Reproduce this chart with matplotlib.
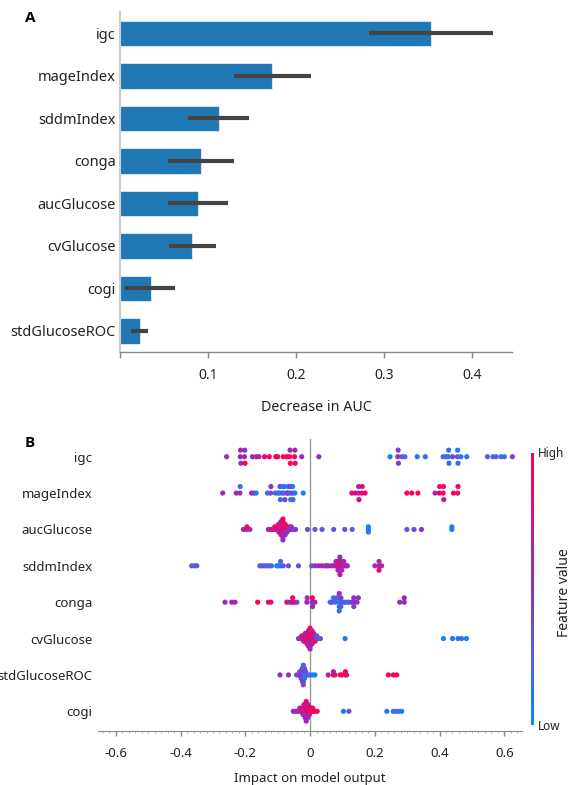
import numpy as np
import matplotlib
matplotlib.use("Agg")
import matplotlib.pyplot as plt
from matplotlib.colors import LinearSegmentedColormap, Normalize
from matplotlib.cm import ScalarMappable
from matplotlib.ticker import MultipleLocator

plt.rcParams['font.family'] = ['Noto Sans', 'DejaVu Sans']
plt.rcParams['axes.unicode_minus'] = False

# ---- panel A: permutation importance (decrease in AUC) ----
perm_features = ['igc', 'mageIndex', 'sddmIndex', 'conga', 'aucGlucose',
                 'cvGlucose', 'cogi', 'stdGlucoseROC']
perm_mean = [0.353, 0.173, 0.112, 0.092, 0.088, 0.082, 0.035, 0.023]
perm_low = [0.283, 0.129, 0.077, 0.055, 0.054, 0.056, 0.006, 0.013]
perm_high = [0.423, 0.217, 0.147, 0.129, 0.123, 0.109, 0.063, 0.032]

# ---- panel B: shap values per feature (x) and scaled feature value (colour) ----
shap_features = ['igc', 'mageIndex', 'aucGlucose', 'sddmIndex', 'conga',
                 'cvGlucose', 'stdGlucoseROC', 'cogi']

igc_shap = [-0.258, -0.216, -0.215, -0.214, -0.203, -0.202, -0.201, -0.178, -0.166, -0.158,
            -0.141, -0.126, -0.106, -0.100, -0.083, -0.072, -0.063, -0.062, -0.061, -0.048,
            -0.047, -0.046, -0.026, 0.027,
            0.247, 0.271, 0.272, 0.273, 0.284, 0.293, 0.331, 0.356, 0.411, 0.420,
            0.427, 0.428, 0.429, 0.440, 0.455, 0.456, 0.457, 0.466, 0.484, 0.548,
            0.565, 0.575, 0.590, 0.600, 0.625]
igc_feat = [0.55, 0.55, 0.6, 0.5, 0.6, 0.55, 1.0, 0.6, 0.6, 0.55,
            0.95, 0.95, 1.0, 0.95, 1.0, 0.95, 1.0, 0.6, 1.0, 0.95,
            0.6, 0.9, 0.55, 0.55,
            0.05, 0.5, 0.45, 0.5, 0.35, 0.2, 0.15, 0.15, 0.1, 0.2,
            0.2, 0.15, 0.1, 0.4, 0.3, 0.1, 0.2, 0.15, 0.1, 0.2,
            0.25, 0.2, 0.25, 0.15, 0.45]

mage_shap = [-0.270, -0.228, -0.217, -0.216, -0.181, -0.173, -0.167, -0.132, -0.122, -0.121,
             -0.108, -0.100, -0.094, -0.093, -0.092, -0.086, -0.085, -0.080, -0.079, -0.078,
             -0.071, -0.069, -0.068, -0.062, -0.061, -0.060, -0.055, -0.054, -0.053, -0.047,
             -0.021,
             0.129, 0.139, 0.149, 0.150, 0.151, 0.160, 0.161, 0.170, 0.299, 0.314,
             0.333, 0.386, 0.399, 0.400, 0.411, 0.412, 0.413, 0.443, 0.456, 0.457]
mage_feat = [0.55, 0.6, 0.55, 0.1, 0.55, 0.6, 0.1, 0.2, 0.35, 0.5,
             0.25, 0.2, 0.1, 0.45, 0.15, 0.4, 0.15, 0.1, 0.15, 0.4,
             0.3, 0.5, 0.1, 0.2, 0.45, 0.1, 0.45, 0.1, 0.2, 0.1,
             0.05,
             0.85, 0.8, 0.75, 0.55, 0.85, 0.85, 0.9, 0.9, 1.0, 1.0,
             1.0, 0.6, 0.9, 0.85, 1.0, 1.0, 0.8, 0.95, 0.9, 0.85]

auc_shap = [-0.206, -0.196, -0.195, -0.186,
            -0.129, -0.122, -0.116, -0.109, -0.109, -0.103, -0.103,
            -0.097, -0.097, -0.097, -0.097,
            -0.090, -0.090, -0.090, -0.090, -0.090, -0.090,
            -0.084, -0.084, -0.084, -0.084, -0.084, -0.084, -0.084, -0.084, -0.084,
            -0.077, -0.077, -0.077, -0.077, -0.077,
            -0.071, -0.071, -0.071, -0.064, -0.064, -0.058, -0.058, -0.052, -0.045,
            -0.008, 0.015, 0.037, 0.073, 0.107, 0.130, 0.180, 0.180, 0.180,
            0.299, 0.321, 0.344, 0.438, 0.438]
auc_feat = [0.6, 0.6, 0.95, 0.55,
            0.55, 0.6, 0.95, 0.6, 0.9, 0.55, 1.0,
            0.6, 1.0, 0.55, 0.9,
            1.0, 0.6, 0.95, 0.55, 1.0, 0.6,
            1.0, 0.95, 0.6, 1.0, 0.55, 0.9, 0.6, 1.0, 0.55,
            0.6, 1.0, 0.55, 0.95, 0.6,
            0.55, 0.9, 0.6, 0.55, 0.6, 0.5, 0.55, 0.5, 0.45,
            0.3, 0.3, 0.3, 0.3, 0.3, 0.25, 0.1, 0.05, 0.1,
            0.3, 0.3, 0.5, 0.1, 0.05]

sddm_shap = [-0.366, -0.358, -0.350, -0.155, -0.148, -0.141, -0.133, -0.126, -0.119, -0.103,
             -0.097, -0.091, -0.091, -0.083, -0.067, -0.036,
             0.005, 0.015, 0.026, 0.036, 0.046, 0.052, 0.057, 0.067,
             0.074, 0.080, 0.080, 0.086, 0.086, 0.086, 0.092, 0.092, 0.092, 0.092,
             0.092, 0.098, 0.098, 0.098, 0.104, 0.104, 0.110, 0.115,
             0.200, 0.213, 0.213, 0.213, 0.221]
sddm_feat = [0.3, 0.25, 0.3, 0.3, 0.25, 0.3, 0.2, 0.3, 0.25, 0.05,
             0.05, 0.05, 0.25, 0.3, 0.3, 0.35,
             0.3, 0.45, 0.55, 0.6, 0.55, 0.5, 0.6, 0.6,
             0.65, 0.7, 0.55, 0.8, 0.6, 0.65, 0.75, 1.0, 0.6, 0.55,
             0.7, 0.85, 0.6, 0.55, 0.7, 0.6, 0.65, 0.6,
             0.6, 0.55, 0.6, 1.0, 0.65]

conga_shap = [-0.263, -0.242, -0.232, -0.162, -0.129, -0.121,
              -0.072, -0.067, -0.058, -0.054, -0.054, -0.048, -0.041,
              -0.010, -0.009, 0.006, 0.007, 0.008, 0.015,
              0.062, 0.068, 0.072, 0.078, 0.082, 0.090, 0.090, 0.090, 0.090, 0.090,
              0.095, 0.095, 0.095, 0.101, 0.107, 0.113, 0.120, 0.128, 0.135, 0.135,
              0.135, 0.145, 0.149,
              0.277, 0.291, 0.291]
conga_feat = [0.55, 0.6, 0.6, 1.0, 0.85, 0.9,
              0.95, 0.55, 0.6, 0.9, 1.0, 0.6, 0.55,
              0.6, 0.55, 0.6, 1.0, 0.55, 0.6,
              0.1, 0.3, 0.1, 0.2, 0.3, 0.1, 0.3, 0.05, 0.5, 0.15,
              0.1, 0.45, 0.3, 0.35, 0.1, 0.3, 0.2, 0.4, 0.5, 0.55,
              0.45, 0.5, 0.5,
              0.55, 0.5, 0.6]

cv_shap = [-0.036, -0.031, -0.026, -0.026, -0.020, -0.020, -0.020,
           -0.015, -0.015, -0.015, -0.015, -0.010, -0.010, -0.010, -0.010, -0.010,
           -0.005, -0.005, -0.005, -0.005, -0.005, -0.005, -0.005,
           0.000, 0.000, 0.000, 0.000, 0.000, 0.000, 0.000, 0.000, 0.000,
           0.006, 0.006, 0.006, 0.006, 0.006, 0.006, 0.011, 0.011, 0.011, 0.011,
           0.016, 0.016, 0.016, 0.021, 0.021, 0.026, 0.032,
           0.108, 0.412, 0.440, 0.457, 0.468, 0.483]
cv_feat = [0.35, 0.5, 0.55, 0.9, 0.6, 0.95, 0.5,
           0.95, 0.6, 1.0, 0.55, 1.0, 0.6, 0.9, 0.55, 0.95,
           1.0, 0.95, 0.6, 1.0, 0.55, 0.9, 0.6,
           0.9, 1.0, 0.6, 0.95, 0.55, 1.0, 0.6, 0.9, 0.5,
           0.95, 0.6, 1.0, 0.55, 0.9, 0.6, 0.6, 0.95, 0.5, 0.9,
           0.55, 0.5, 0.9, 0.45, 0.35, 0.3, 0.25,
           0.1, 0.05, 0.1, 0.1, 0.15, 0.05]

std_shap = [-0.093, -0.067, -0.042, -0.035, -0.032, -0.032, -0.028, -0.028, -0.028,
            -0.024, -0.024, -0.024, -0.024, -0.024,
            -0.021, -0.021, -0.021, -0.021, -0.021, -0.021, -0.021,
            -0.017, -0.017, -0.017, -0.017, -0.014, -0.014, -0.010, -0.006, 0.001,
            0.008, 0.015,
            0.056, 0.072, 0.072, 0.077, 0.093, 0.098, 0.109, 0.109, 0.113,
            0.242, 0.257, 0.268]
std_feat = [0.55, 0.55, 0.35, 0.3, 0.5, 0.4, 0.55, 0.3, 0.45,
            0.35, 0.55, 0.2, 0.5, 0.3,
            0.6, 0.25, 0.5, 0.3, 0.55, 0.2, 0.4,
            0.2, 0.45, 0.1, 0.3, 0.15, 0.4, 0.1, 0.3, 0.1,
            0.15, 0.05,
            0.7, 1.0, 0.6, 0.85, 1.0, 0.9, 1.0, 0.95, 0.9,
            1.0, 0.95, 0.95]

cogi_shap = [-0.052, -0.045, -0.039, -0.032, -0.032, -0.025, -0.025, -0.022, -0.022, -0.022,
             -0.019, -0.019, -0.019, -0.019, -0.015, -0.015, -0.015, -0.015, -0.015,
             -0.012, -0.012, -0.012, -0.012, -0.012, -0.012, -0.012,
             -0.008, -0.008, -0.008, -0.008, -0.008, -0.005, -0.005, -0.005, -0.005,
             -0.002, -0.002, -0.002, 0.002, 0.002, 0.008, 0.008, 0.015, 0.022,
             0.103, 0.120, 0.237, 0.257, 0.265, 0.273, 0.283]
cogi_feat = [0.55, 0.6, 0.5, 0.95, 0.6, 0.55, 1.0, 0.6, 0.9, 0.5,
             1.0, 0.55, 0.6, 0.95, 0.6, 1.0, 0.55, 0.9, 0.6,
             0.95, 0.55, 0.6, 1.0, 0.5, 0.9, 0.6,
             0.6, 1.0, 0.55, 0.95, 0.6, 1.0, 0.6, 0.9, 0.55,
             0.95, 1.0, 0.6, 1.0, 0.9, 1.0, 0.95, 1.0, 0.95,
             0.1, 0.3, 0.1, 0.15, 0.1, 0.2, 0.1]

shap_rows = [igc_shap, mage_shap, auc_shap, sddm_shap, conga_shap, cv_shap, std_shap, cogi_shap]
feat_rows = [igc_feat, mage_feat, auc_feat, sddm_feat, conga_feat, cv_feat, std_feat, cogi_feat]

# blue -> purple -> red, like shap's red_blue
shap_cmap = LinearSegmentedColormap.from_list(
    'shap_rb', ['#008bfb', '#5560e2', '#8a34c4', '#cc1497', '#ff0052'])


def swarm_offsets(vals, row_height=0.4, nbins=100):
    # same stacking rule as shap's summary plot
    vals = np.asarray(vals, dtype=float)
    quant = np.round(nbins * (vals - vals.min()) / (vals.max() - vals.min() + 1e-8))
    order = np.argsort(quant, kind='stable')
    ys = np.zeros(len(vals))
    layer, last = 0, -1
    for i in order:
        if quant[i] != last:
            layer = 0
        ys[i] = np.ceil(layer / 2) * ((layer % 2) * 2 - 1)
        layer += 1
        last = quant[i]
    ys *= 0.9 * (row_height / np.max(ys + 1))
    return ys


fig = plt.figure(figsize=(5.72, 7.85), dpi=100)

# ---------------- panel A ----------------
ax_a = fig.add_axes([120 / 572, 1 - 352 / 785, 392 / 572, 340 / 785])
pos = np.arange(len(perm_features))
ax_a.barh(pos, perm_mean, height=0.6, color='#1f77b4',
          edgecolor=(1, 1, 1, 0.6), linewidth=0.8, zorder=2)
ax_a.hlines(pos, perm_low, perm_high, color='#444444', lw=3, zorder=3)
ax_a.set_ylim(len(perm_features) - 0.5, -0.5)
ax_a.set_xlim(0, 0.445)
ax_a.set_yticks(pos)
ax_a.set_yticklabels(perm_features, fontsize=10.5, color='#222222')
ax_a.set_xticks([0, 0.1, 0.2, 0.3, 0.4])
ax_a.set_xticklabels(['', '0.1', '0.2', '0.3', '0.4'], fontsize=10, color='#222222')
ax_a.tick_params(axis='y', length=0, pad=3)
ax_a.tick_params(axis='x', length=4.5, width=1, color='#888888', pad=7)
for s in ['top', 'right']:
    ax_a.spines[s].set_visible(False)
ax_a.spines['left'].set_color('#cccccc')
ax_a.spines['left'].set_linewidth(1.5)
ax_a.spines['bottom'].set_color('#888888')
ax_a.spines['bottom'].set_linewidth(1)
ax_a.set_xlabel('Decrease in AUC', fontsize=10.3, color='#222222', labelpad=12)

# ---------------- panel B ----------------
ax_b = fig.add_axes([97.8 / 572, 1 - 730.7 / 785, 424.6 / 572, 291.7 / 785])
n_rows = len(shap_features)
ax_b.axvline(0, color='#999999', lw=1, zorder=0)
for k, (sv, fv) in enumerate(zip(shap_rows, feat_rows)):
    ypos = n_rows - 1 - k
    ys = swarm_offsets(sv)
    ax_b.scatter(sv, ypos + ys, c=fv, cmap=shap_cmap, vmin=0, vmax=1,
                 s=14, linewidths=0, zorder=3)
ax_b.set_ylim(-0.533, n_rows - 0.513)
ax_b.set_xlim(-0.656, 0.656)
ax_b.set_yticks(np.arange(n_rows))
ax_b.set_yticklabels(shap_features[::-1], fontsize=9.5, color='#222222')
ax_b.tick_params(axis='y', length=0, pad=4)
ax_b.xaxis.set_minor_locator(MultipleLocator(0.02))
ax_b.set_xticks([-0.6, -0.4, -0.2, 0, 0.2, 0.4, 0.6])
ax_b.set_xticklabels(['-0.6', '-0.4', '-0.2', '0', '0.2', '0.4', '0.6'],
                     fontsize=9.5, color='#222222')
ax_b.tick_params(axis='x', which='major', length=3.5, width=1, color='#888888', pad=8)
ax_b.tick_params(axis='x', which='minor', length=1.5, width=0.6, color='#aaaaaa')
for s in ['top', 'right', 'left']:
    ax_b.spines[s].set_visible(False)
ax_b.spines['bottom'].set_color('#888888')
ax_b.set_xlabel('Impact on model output', fontsize=9.5, color='#222222', labelpad=9)

# colour bar
cax = fig.add_axes([531 / 572, 1 - 725 / 785, 3 / 572, 272 / 785])
cb = fig.colorbar(ScalarMappable(norm=Normalize(0, 1), cmap=shap_cmap), cax=cax)
cb.outline.set_visible(False)
cb.set_ticks([])
fig.text(538 / 572, 1 - 453 / 785, 'High', fontsize=8.5, color='#222222', va='center', ha='left')
fig.text(538 / 572, 1 - 727 / 785, 'Low', fontsize=8.5, color='#222222', va='center', ha='left')
fig.text(565 / 572, 1 - 593 / 785, 'Feature value', fontsize=10, color='#222222',
         rotation=90, va='center', ha='center')

# panel letters
letter_font = ['Open Sans', 'DejaVu Sans']
fig.text(25 / 572, 1 - 17.5 / 785, 'A', fontsize=11, fontweight='bold',
         family=letter_font, va='center', ha='left')
fig.text(25 / 572, 1 - 443 / 785, 'B', fontsize=11, fontweight='bold',
         family=letter_font, va='center', ha='left')

fig.savefig('out.png', dpi=100)
